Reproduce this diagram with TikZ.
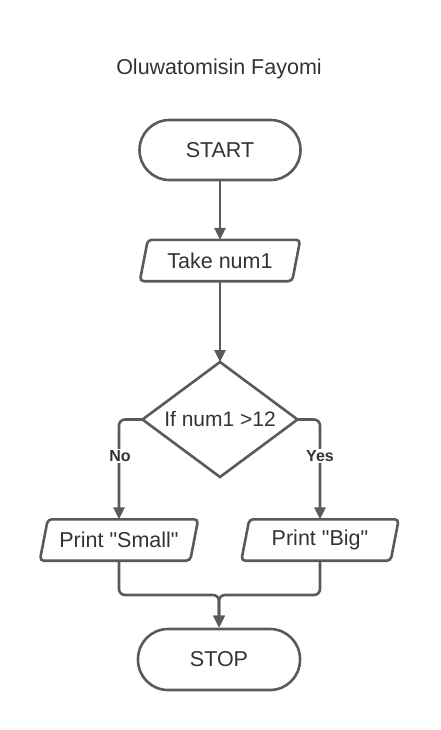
\documentclass[tikz,border=0pt]{standalone}
\usepackage{fontspec}
\setmainfont{Liberation Sans}
\usetikzlibrary{shapes.geometric,arrows.meta,calc}
\definecolor{linec}{HTML}{5A5A5A}
\definecolor{textc}{HTML}{333333}
\tikzset{
  term/.style={draw=linec, line width=2.6pt, rounded corners=30pt, minimum width=161pt, minimum height=60pt, inner sep=0pt, text=textc, font=\fontsize{21.5}{24}\selectfont},
  iobox/.style={draw=none, minimum width=152pt, minimum height=41pt, inner sep=0pt, text=textc, font=\fontsize{21.5}{24}\selectfont},
  ioshape/.style={draw=linec, line width=2.6pt, rounded corners=4pt},
  decision/.style={diamond, aspect=1.35, draw=linec, line width=2.6pt, minimum width=155pt, minimum height=115pt, inner sep=0pt, outer sep=0pt, text=textc, font=\fontsize{21}{24}\selectfont},
  conn/.style={draw=linec, line width=2.6pt, -{Triangle[length=12pt,width=11pt]}},
  lbl/.style={fill=white, inner sep=1.5pt, text=textc, font=\fontsize{16}{18}\selectfont\bfseries},
  titlec/.style={text=textc, font=\fontsize{21.5}{24}\selectfont}
}
\newcommand{\iodraw}[1]{\draw[ioshape] ($(#1.north west)+(4pt,0)$) -- ($(#1.north east)+(4pt,0)$) -- ($(#1.south east)+(-4pt,0)$) -- ($(#1.south west)+(-4pt,0)$) -- cycle;}
\newcommand{\dq}{\XeTeXglyph\XeTeXcharglyph"22\relax}
\begin{document}
\begin{tikzpicture}[x=1pt,y=-1pt]
\useasboundingbox (0,0) rectangle (440,730);
\node[titlec] (title) at (219,69) {Oluwatomisin Fayomi};
\node[term] (start) at (220,150) {START};
\node[iobox] (take) at (220,260.5) {Take num1};
\iodraw{take}
\node[decision] (dec) at (220,419.5) {If num1 >12};
\node[iobox, minimum width=150pt] (small) at (119,540) {Print \dq Small\dq};
\iodraw{small}
\node[iobox, minimum width=149pt] (big) at (320,540) {Print \dq Big\dq};
\iodraw{big}
\node[term, minimum width=162pt, minimum height=61pt] (stop) at (219,659.5) {STOP};
\coordinate (merge) at (219,595);
\draw[conn] (start.south) -- (take.north);
\draw[conn] (take.south) -- (dec.north);
\draw[conn, rounded corners=6pt] (dec.west) -| (small.north);
\draw[conn, rounded corners=6pt] (dec.east) -| (big.north);
\node[lbl] (no) at (120,456) {No};
\node[lbl] (yes) at (320,456) {Yes};
\draw[conn, rounded corners=6pt] (small.south) |- (merge) -- (stop.north);
\draw[conn, rounded corners=6pt] (big.south) |- (merge) -- (stop.north);
\end{tikzpicture}
\end{document}
